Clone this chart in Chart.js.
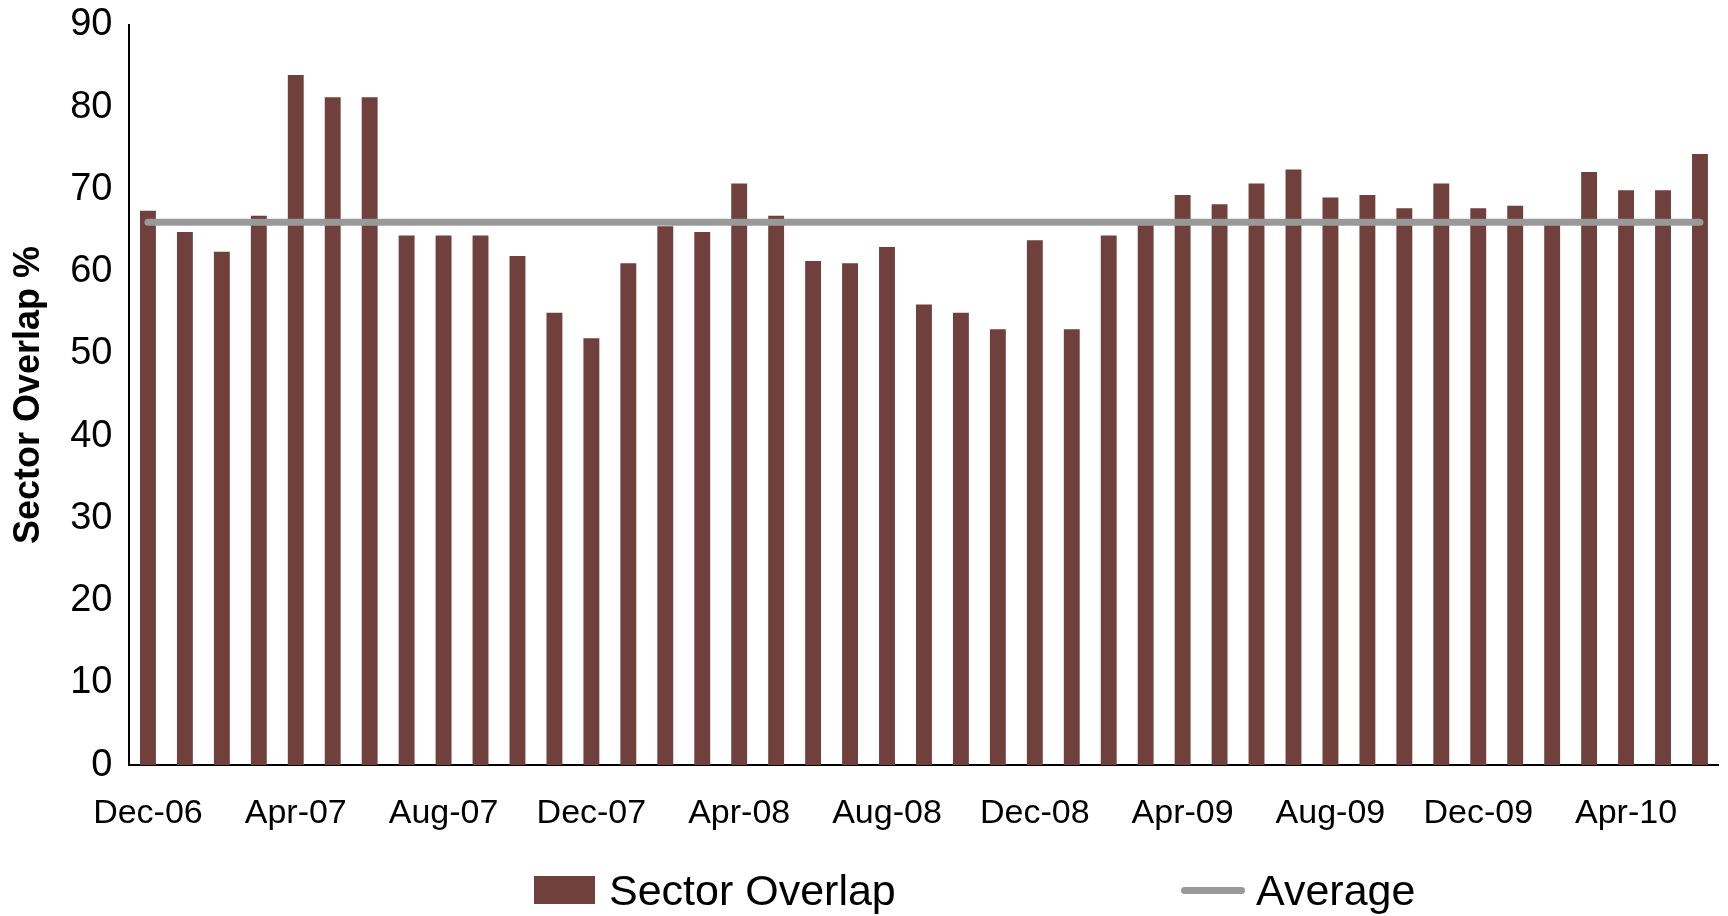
<!DOCTYPE html>
<html lang="en">
<head>
  <meta charset="UTF-8" />
  <title>Sector Overlap</title>
  <script src="https://cdn.jsdelivr.net/npm/chart.js"></script>
  <style>
    body { margin: 0; background: #fff; font-family: "Liberation Sans", Arial, sans-serif; overflow: hidden; }
    #wrap { position: relative; width: 1728px; height: 916px; overflow: hidden; }
    /* canvas sobe um pouco para o 90 ficar colado no topo */
    #chartBox { position: absolute; left: 0; top: -15px; width: 1728px; height: 882px; }
    #legend { position: absolute; left: 0; top: 862px; width: 1728px; height: 56px; }
    .item { position: absolute; top: 0; height: 56px; display: flex; align-items: center; font-size: 43px; color: #000; }
    .box { width: 61px; height: 28px; background: #6F403C; margin-right: 14px; }
    .line { width: 64px; height: 7px; border-radius: 4px; background: #999999; margin-right: 11px; }
  </style>
</head>
<body>
  <div id="wrap">
    <div id="chartBox"><canvas id="overlapChart"></canvas></div>
    <!-- legenda manual, os itens ficam bem afastados no original -->
    <div id="legend">
      <div class="item" style="left:534px"><span class="box"></span>Sector Overlap</div>
      <div class="item" style="left:1181px"><span class="line"></span>Average</div>
    </div>
  </div>

  <script>
    // meses (Dec-06 .. Jun-10)
    const months = [
      'Dec-06', 'Jan-07', 'Feb-07', 'Mar-07', 'Apr-07', 'May-07', 'Jun-07', 'Jul-07', 'Aug-07', 'Sep-07', 'Oct-07', 'Nov-07',
      'Dec-07', 'Jan-08', 'Feb-08', 'Mar-08', 'Apr-08', 'May-08', 'Jun-08', 'Jul-08', 'Aug-08', 'Sep-08', 'Oct-08', 'Nov-08',
      'Dec-08', 'Jan-09', 'Feb-09', 'Mar-09', 'Apr-09', 'May-09', 'Jun-09', 'Jul-09', 'Aug-09', 'Sep-09', 'Oct-09', 'Nov-09',
      'Dec-09', 'Jan-10', 'Feb-10', 'Mar-10', 'Apr-10', 'May-10', 'Jun-10'
    ];

    // labels que aparecem no eixo x
    const tickLabels = ['Dec-06', 'Apr-07', 'Aug-07', 'Dec-07', 'Apr-08', 'Aug-08', 'Dec-08', 'Apr-09', 'Aug-09', 'Dec-09', 'Apr-10'];

    const sectorOverlap = [
      67.4, 64.8, 62.4, 66.8, 83.9, 81.2, 81.2, 64.4, 64.4, 64.4, 61.9, 55.0,
      51.9, 61.0, 65.5, 64.8, 70.7, 66.8, 61.3, 61.0, 63.0, 56.0, 55.0, 53.0,
      63.8, 53.0, 64.4, 66.3, 69.3, 68.2, 70.7, 72.4, 69.0, 69.3, 67.7, 70.7,
      67.7, 68.0, 65.9, 72.1, 69.9, 69.9, 74.3
    ];

    const average = [
      66, 66, 66, 66, 66, 66, 66, 66, 66, 66, 66, 66,
      66, 66, 66, 66, 66, 66, 66, 66, 66, 66, 66, 66,
      66, 66, 66, 66, 66, 66, 66, 66, 66, 66, 66, 66,
      66, 66, 66, 66, 66, 66, 66
    ];

    const yTicks = [0, 10, 20, 30, 40, 50, 60, 70, 80, 90];

    const ctx = document.getElementById('overlapChart').getContext('2d');
    new Chart(ctx, {
      type: 'bar',
      data: {
        labels: months,
        datasets: [
          {
            type: 'line',
            label: 'Average',
            data: average,
            borderColor: '#999999',
            borderWidth: 7,
            borderCapStyle: 'round',
            pointRadius: 0,
            fill: false,
            order: 0
          },
          {
            label: 'Sector Overlap',
            data: sectorOverlap,
            backgroundColor: '#6F403C',
            barPercentage: 0.43,
            categoryPercentage: 1,
            order: 1
          }
        ]
      },
      options: {
        responsive: true,
        maintainAspectRatio: false,
        animation: false,
        layout: { padding: { left: 7, right: 3, top: 0, bottom: 5 } },
        plugins: {
          legend: { display: false },
          tooltip: { enabled: false }
        },
        scales: {
          x: {
            grid: { display: false, drawTicks: false },
            border: { display: true, color: '#000', width: 2 },
            ticks: {
              autoSkip: false,
              maxRotation: 0,
              padding: 28,
              color: '#000',
              font: { family: 'Liberation Sans', size: 34 },
              callback: function (val) {
                const lab = this.getLabelForValue(val);
                return tickLabels.includes(lab) ? lab : '';
              }
            }
          },
          y: {
            min: 0,
            max: 90,
            afterBuildTicks: axis => { axis.ticks = yTicks.map(v => ({ value: v })); },
            grid: { display: false, drawTicks: false },
            border: { display: true, color: '#000', width: 2 },
            ticks: {
              padding: 17,
              color: '#000',
              font: { family: 'Liberation Sans', size: 38 }
            },
            title: {
              display: true,
              text: 'Sector Overlap %',
              color: '#000',
              font: { family: 'Liberation Sans', size: 36, weight: 'bold' },
              padding: { top: 0, bottom: 3 }
            }
          }
        }
      }
    });
  </script>
</body>
</html>
